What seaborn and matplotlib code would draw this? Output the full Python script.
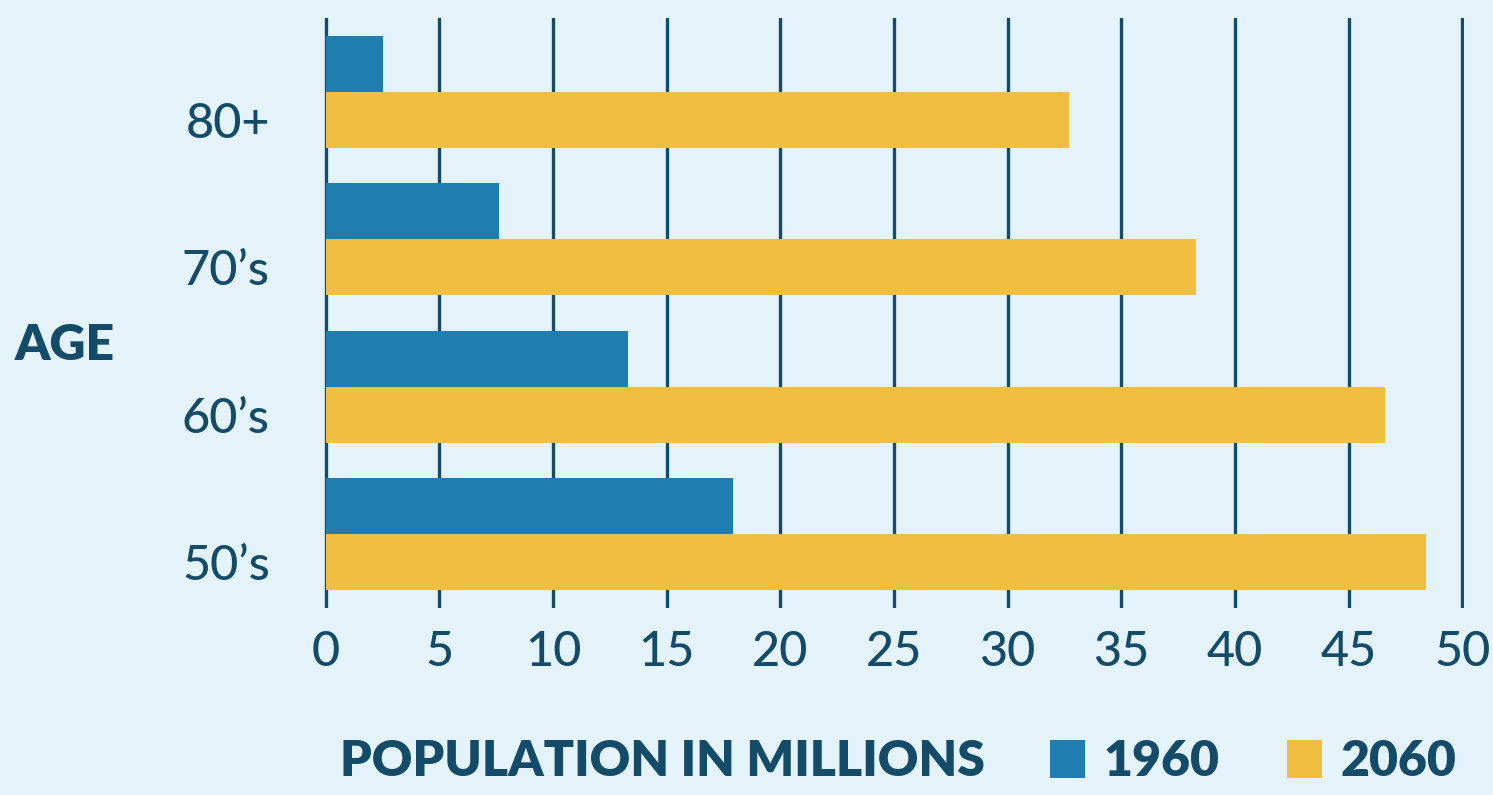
import matplotlib
matplotlib.use("Agg")
import matplotlib.pyplot as plt
import seaborn as sns
import pandas as pd
from matplotlib.patches import Patch

ages = ["80+", "70’s", "60’s", "50’s"]
years = ["1960", "2060"]
pop_1960 = [2.5, 7.6, 13.3, 17.9]
pop_2060 = [32.7, 38.3, 46.6, 48.4]
x_ticks = [0, 5, 10, 15, 20, 25, 30, 35, 40, 45, 50]

BG = "#E4F3F9"
NAVY = "#134B68"
BLUE = "#1F7DB0"
YELLOW = "#F0BE41"
BAR_WIDTH = 0.76

df = pd.DataFrame({
    "age": ages * 2,
    "year": [years[0]] * len(ages) + [years[1]] * len(ages),
    "pop": pop_1960 + pop_2060,
})

sns.set_theme(style="white")
plt.rcParams["font.family"] = ["Lato", "DejaVu Sans"]

fig = plt.figure(figsize=(14.93, 7.95), dpi=100, facecolor=BG)
ax = fig.add_axes([324 / 1493, 1 - 608 / 795, (1464 - 324) / 1493, (608 - 18) / 795])
ax.set_facecolor(BG)

sns.barplot(data=df, x="pop", y="age", hue="year", order=ages, hue_order=years,
            palette={years[0]: BLUE, years[1]: YELLOW}, orient="h",
            width=BAR_WIDTH, saturation=1, ax=ax, legend=False, linewidth=0)

ax.set_xlim(-0.08, 50.08)
ax.set_ylim(3.5, -0.5)
ax.set_xticks(x_ticks)
ax.set_xticklabels([str(t) for t in x_ticks])
# age labels sit beside the 2060 bars, as in the original
ax.set_yticks([i + BAR_WIDTH / 4 for i in range(len(ages))])
ax.set_yticklabels(ages)
ax.grid(axis="x", color=NAVY, linewidth=2.4)
ax.grid(axis="y", visible=False)
ax.set_axisbelow(True)
for s in ax.spines.values():
    s.set_visible(False)
ax.tick_params(axis="both", length=0, labelcolor=NAVY, labelsize=35)
ax.tick_params(axis="x", pad=16)
ax.tick_params(axis="y", pad=39)
for lab in ax.get_xticklabels() + ax.get_yticklabels():
    lab.set_fontweight("medium")
ax.set_xlabel("")
ax.set_ylabel("")

fig.text(15 / 1493, 1 - 345 / 795, "AGE", color=NAVY, fontsize=36,
         fontweight="heavy", ha="left", va="center")
fig.text(340 / 1493, 1 - 762 / 795, "POPULATION IN MILLIONS", color=NAVY,
         fontsize=36, fontweight="heavy", ha="left", va="center")

handles = [Patch(facecolor=BLUE, edgecolor="none"), Patch(facecolor=YELLOW, edgecolor="none")]
leg = fig.legend(handles, years, loc="center left",
                 bbox_to_anchor=(1050 / 1493, 1 - 762 / 795), ncol=2, frameon=False,
                 borderpad=0, borderaxespad=0,
                 handlelength=0.7, handleheight=0.78, handletextpad=0.36,
                 columnspacing=1.36,
                 prop={"size": 36, "weight": "heavy"})
for t in leg.get_texts():
    t.set_color(NAVY)

fig.savefig("out.png", dpi=100, facecolor=BG)
